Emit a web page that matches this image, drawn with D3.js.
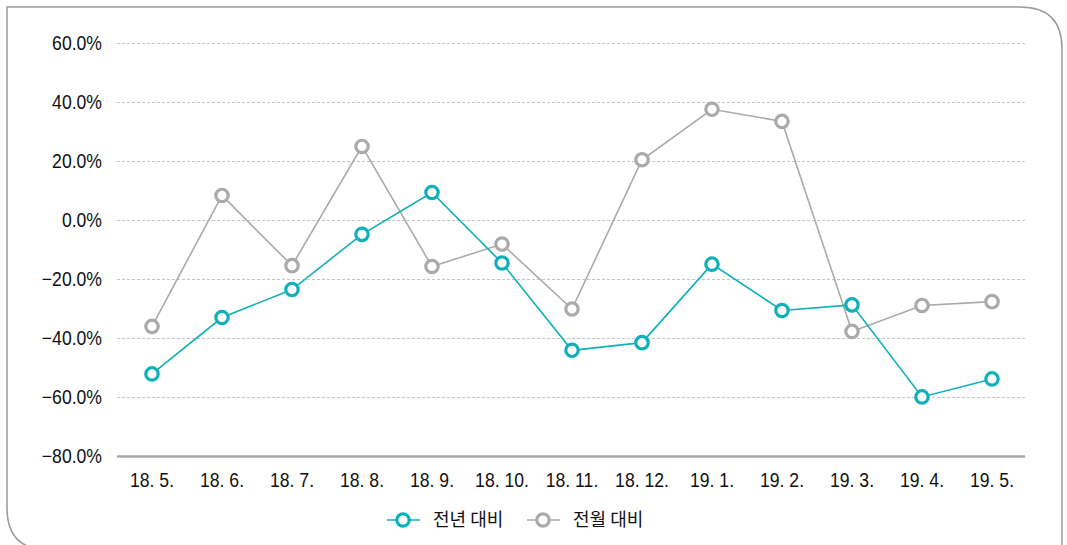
<!DOCTYPE html>
<html>
<head>
<meta charset="utf-8">
<script src="https://cdn.jsdelivr.net/npm/d3@7"></script>
<style>
  body { margin: 0; background: #fff; }
  svg { display: block; }
  .tick text { font-family: "Liberation Sans Narrow", "Liberation Sans", sans-serif; }
</style>
</head>
<body>
<svg width="1067" height="545"></svg>
<script>
// months on the x axis
var months = ["18. 5.", "18. 6.", "18. 7.", "18. 8.", "18. 9.", "18. 10.", "18. 11.", "18. 12.", "19. 1.", "19. 2.", "19. 3.", "19. 4.", "19. 5."];
// year-on-year change (%)
var yoy = [-52.0, -32.9, -23.4, -4.7, 9.5, -14.4, -44.0, -41.4, -14.8, -30.5, -28.6, -59.8, -53.7];
// month-on-month change (%)
var mom = [-35.9, 8.5, -15.3, 25.1, -15.6, -8.0, -30.0, 20.6, 37.7, 33.6, -37.6, -28.8, -27.5];
var yTicks = [-80, -60, -40, -20, 0, 20, 40, 60];
var seriesNames = ["전년 대비", "전월 대비"];
var colors = ["#0fb0ba", "#aaaaaa"];

var svg = d3.select("svg");

// frame: square top-left, rounded top-right and bottom-left
var fx0 = 7, fy0 = 7, fx1 = 1062, fy1 = 550, r = 42;
svg.append("path")
    .attr("d", "M" + fx0 + "," + fy0 +
      " L" + (fx1 - r) + "," + fy0 +
      " Q" + fx1 + "," + fy0 + " " + fx1 + "," + (fy0 + r) +
      " L" + fx1 + "," + fy1 +
      " L" + (fx0 + r) + "," + fy1 +
      " Q" + fx0 + "," + fy1 + " " + fx0 + "," + (fy1 - r) + " Z")
    .attr("fill", "none")
    .attr("stroke", "#9a9a9a")
    .attr("stroke-width", 1.5);

var x = d3.scaleBand()
    .domain(months)
    .range([117, 1027]);

var y = d3.scaleLinear()
    .domain([-80, 60])
    .range([456.5, 43.5]);

// dashed grid lines
svg.append("g")
  .selectAll("line")
  .data(yTicks.filter(function(d) { return d > -80; }))
  .enter().append("line")
    .attr("x1", 117)
    .attr("x2", 1025)
    .attr("y1", function(d) { return y(d); })
    .attr("y2", function(d) { return y(d); })
    .attr("stroke", "#c4c4c4")
    .attr("stroke-width", 1)
    .attr("stroke-dasharray", "3,2");

// y axis labels
var yAxis = svg.append("g")
    .attr("transform", "translate(117,0)")
    .call(d3.axisLeft(y).tickValues(yTicks).tickSize(0).tickPadding(15)
      .tickFormat(function(d) { return (d < 0 ? "\u2212" + (-d).toFixed(1) : d.toFixed(1)) + "%"; }));
yAxis.select(".domain").remove();
yAxis.selectAll("text").attr("font-size", 20).attr("fill", "#111");

// x axis (bottom line at -80%)
var xAxis = svg.append("g")
    .attr("transform", "translate(0," + y(-80) + ")")
    .call(d3.axisBottom(x).tickSize(0).tickPadding(16));
xAxis.select(".domain")
    .attr("d", "M117,0H1025")
    .attr("stroke", "#a6a6a6")
    .attr("stroke-width", 2.5);
xAxis.selectAll("text").attr("font-size", 20).attr("fill", "#111");

// the original uses a condensed face, squeeze the tick labels a bit
svg.selectAll(".tick text").each(function() {
  var w = this.getComputedTextLength();
  d3.select(this)
      .attr("textLength", w * 0.88)
      .attr("lengthAdjust", "spacingAndGlyphs");
});

var line = d3.line()
    .x(function(d, i) { return x(months[i]) + x.bandwidth() / 2; })
    .y(function(d) { return y(d); });

// draw gray series first, teal on top
[mom, yoy].forEach(function(vals, k) {
  var c = k === 0 ? colors[1] : colors[0];
  svg.append("path")
      .datum(vals)
      .attr("fill", "none")
      .attr("stroke", c)
      .attr("stroke-width", 1.6)
      .attr("d", line);
  svg.append("g")
    .selectAll("circle")
    .data(vals)
    .enter().append("circle")
      .attr("cx", function(d, i) { return x(months[i]) + x.bandwidth() / 2; })
      .attr("cy", function(d) { return y(d); })
      .attr("r", 6.2)
      .attr("fill", "#fff")
      .attr("stroke", c)
      .attr("stroke-width", 3.2);
});

// legend
var legend = svg.append("g")
  .selectAll("g")
  .data(seriesNames)
  .enter().append("g")
    .attr("transform", function(d, i) { return "translate(" + (387 + i * 140) + ",520)"; });
legend.append("line")
    .attr("x1", 0).attr("x2", 33)
    .attr("stroke", function(d, i) { return colors[i]; })
    .attr("stroke-width", 1.6);
legend.append("circle")
    .attr("cx", 16).attr("r", 6.2)
    .attr("fill", "#fff")
    .attr("stroke", function(d, i) { return colors[i]; })
    .attr("stroke-width", 3.2);
legend.append("text")
    .attr("x", 46)
    .attr("dy", "0.35em")
    .attr("font-family", "'Noto Sans CJK KR', sans-serif")
    .attr("font-size", 18)
    .attr("fill", "#111")
    .text(function(d) { return d; });
</script>
</body>
</html>
